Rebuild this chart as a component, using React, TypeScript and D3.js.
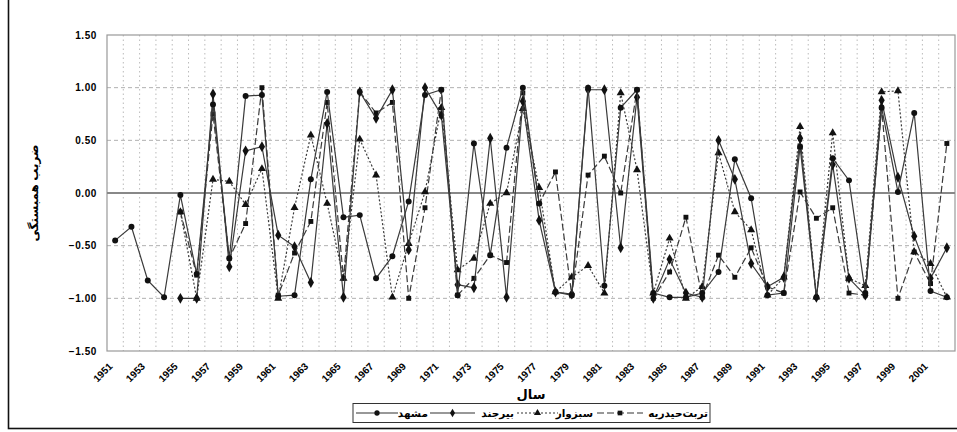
import * as d3 from "d3";
import { useEffect, useRef } from "react";

// years on the x axis
const years = d3.range(1951, 2003);

// correlation coefficients (null = no value)
const mashhad = [
  -0.45, -0.32, -0.83, -0.99, -0.02, -0.77, 0.84, -0.62, 0.92, 0.93,
  -0.98, -0.97, 0.13, 0.96, -0.23, -0.21, -0.81, -0.6, -0.08, 0.93,
  0.98, -0.97, 0.47, -0.59, 0.43, 1.0, -0.1, -0.94, -0.97, 1.0,
  -0.88, 0.81, 0.98, -0.95, -0.99, -0.99, -0.95, -0.75, 0.32, -0.05,
  -0.97, -0.95, 0.44, -0.99, 0.33, 0.12, -0.95, 0.81, 0.01, 0.76,
  -0.93, -0.99,
];
const birjand = [
  null, null, null, null, -1.0, -1.0, 0.94, -0.7, 0.4, 0.44,
  -0.4, -0.51, -0.85, 0.66, -0.99, 0.96, 0.71, 0.98, -0.54, 1.0,
  0.74, -0.87, -0.9, 0.52, -0.99, 0.87, -0.26, -0.94, -0.96, 0.98,
  0.98, -0.52, 0.91, -1.0, -0.63, -0.95, -0.99, 0.5, 0.13, -0.67,
  -0.89, -0.8, 0.52, -0.99, 0.27, -0.81, -0.97, 0.88, 0.15, -0.41,
  -0.81, -0.52,
];
const sabzevar = [
  null, null, null, null, -0.18, -1.0, 0.13, 0.11, -0.11, 0.23,
  -1.0, -0.14, 0.55, -0.1, -0.81, 0.51, 0.17, -0.99, -0.48, 0.01,
  0.81, -0.73, -0.62, -0.1, 0.0, 0.8, 0.05, -0.94, -0.8, -0.69,
  -0.95, 0.95, 0.22, -0.95, -0.43, -1.0, -0.89, 0.38, -0.18, -0.35,
  -0.97, -0.8, 0.63, -0.99, 0.57, -0.81, -0.88, 0.96, 0.97, -0.56,
  -0.67, -0.99,
];
const torbat = [
  null, null, null, null, -0.18, -0.78, 0.75, -0.62, -0.29, 1.0,
  -0.97, -0.57, -0.27, 0.86, -0.81, 0.96, 0.76, 0.86, -1.0, -0.14,
  0.98, -0.97, -0.81, -0.59, -0.66, 0.95, -0.1, 0.2, -0.97, 0.17,
  0.35, 0.0, 0.98, -1.0, -0.75, -0.23, -0.99, -0.59, -0.8, -0.52,
  -0.89, -0.95, 0.01, -0.24, -0.14, -0.95, -0.97, 0.81, -1.0, -0.56,
  -0.86, 0.47,
];

const seriesNames = ["مشهد", "بیرجند", "سبزوار", "تربت‌حیدریه"];
const yTicks = [-1.5, -1.0, -0.5, 0, 0.5, 1.0, 1.5];
const yTitle = "ضریب همبستگی";
const xTitle = "سال";

const font = "'Liberation Sans', Arial, 'DejaVu Sans', sans-serif";

export default function App() {
  const ref = useRef<SVGSVGElement>(null);

  useEffect(() => {
    const width = 957;
    const left = 107,
      right = 955,
      top = 35,
      bottom = 351;

    const svg = d3.select(ref.current);
    svg.selectAll("*").remove();

    // outer frame
    svg
      .append("rect")
      .attr("x", 8.5)
      .attr("y", -2)
      .attr("width", width + 4)
      .attr("height", 430.5)
      .attr("fill", "#fff")
      .attr("stroke", "#111")
      .attr("stroke-width", 1.6);

    const x = d3.scaleBand<number>().domain(years).range([left, right]);
    const y = d3.scaleLinear().domain([-1.5, 1.5]).range([bottom, top]);
    const cx = (yr: number) => (x(yr) as number) + x.bandwidth() / 2;

    // vertical dotted gridlines between categories
    svg
      .append("g")
      .selectAll("line")
      .data(years.slice(1))
      .join("line")
      .attr("x1", (d) => x(d) as number)
      .attr("x2", (d) => x(d) as number)
      .attr("y1", top)
      .attr("y2", bottom)
      .attr("stroke", "#bbb")
      .attr("stroke-dasharray", "1.5,3");

    // horizontal gridlines
    svg
      .append("g")
      .selectAll("line")
      .data(yTicks.filter((t) => t !== 0 && t !== -1.5 && t !== 1.5))
      .join("line")
      .attr("x1", left)
      .attr("x2", right)
      .attr("y1", (d) => y(d))
      .attr("y2", (d) => y(d))
      .attr("stroke", "#b0b0b0")
      .attr("stroke-dasharray", "4,3");

    // plot border
    svg
      .append("rect")
      .attr("x", left)
      .attr("y", top)
      .attr("width", right - left)
      .attr("height", bottom - top)
      .attr("fill", "none")
      .attr("stroke", "#999")
      .attr("stroke-width", 1.2);

    // zero line
    svg
      .append("line")
      .attr("x1", left)
      .attr("x2", right)
      .attr("y1", y(0))
      .attr("y2", y(0))
      .attr("stroke", "#888")
      .attr("stroke-width", 2);

    // y tick labels
    svg
      .append("g")
      .selectAll("text")
      .data(yTicks)
      .join("text")
      .attr("x", 97)
      .attr("y", (d) => y(d) + 3.5)
      .attr("text-anchor", "end")
      .style("font-family", font)
      .style("font-size", "10px")
      .style("font-weight", "bold")
      .style("letter-spacing", "0.6px")
      .text((d) => d3.format(".2f")(d));

    // x tick labels, every other year
    svg
      .append("g")
      .selectAll("text")
      .data(years.filter((d) => (d - 1951) % 2 === 0))
      .join("text")
      .attr("transform", (d) => `translate(${cx(d) - 2},${bottom + 16}) rotate(-45)`)
      .attr("text-anchor", "end")
      .style("font-family", font)
      .style("font-size", "10px")
      .style("font-weight", "bold")
      .text((d) => d);

    // axis titles
    svg
      .append("text")
      .attr("x", (left + right) / 2)
      .attr("y", 399)
      .attr("text-anchor", "middle")
      .style("font-family", font)
      .style("font-size", "13px")
      .style("font-weight", "bold")
      .text(xTitle);

    svg
      .append("text")
      .attr("transform", `translate(38,${(top + bottom) / 2}) rotate(-90)`)
      .attr("text-anchor", "middle")
      .style("font-family", font)
      .style("font-size", "12px")
      .style("font-weight", "bold")
      .text(yTitle);

    // series
    const all = [mashhad, birjand, sabzevar, torbat];
    const dashes = [null, null, "2,2", "7,3"];
    const shapes = [d3.symbolCircle, d3.symbolDiamond, d3.symbolTriangle, d3.symbolSquare];
    const sizes = [28, 34, 28, 24];

    const line = d3
      .line<number | null>()
      .defined((d) => d !== null)
      .x((_, i) => cx(years[i]))
      .y((d) => y(d as number));

    const plot = svg.append("g");
    [3, 2, 1, 0].forEach((s) => {
      plot
        .append("path")
        .attr("d", line(all[s]))
        .attr("fill", "none")
        .attr("stroke", "#3a3a3a")
        .attr("stroke-width", 1.2)
        .attr("stroke-dasharray", dashes[s]);
      plot
        .append("g")
        .selectAll("path")
        .data(all[s].map((v, i) => ({ v, yr: years[i] })).filter((d) => d.v !== null))
        .join("path")
        .attr("transform", (d) => `translate(${cx(d.yr)},${y(d.v as number)})`)
        .attr("d", d3.symbol().type(shapes[s]).size(sizes[s])())
        .attr("fill", "#111");
    });

    // legend
    const lg = svg.append("g");
    lg.append("rect")
      .attr("x", 353)
      .attr("y", 403.5)
      .attr("width", 357)
      .attr("height", 19)
      .attr("fill", "#fff")
      .attr("stroke", "#333");

    const items = [
      { s: 0, x1: 356, x2: 398, tx: 428 },
      { s: 1, x1: 430, x2: 475, tx: 514 },
      { s: 2, x1: 517, x2: 558, tx: 593 },
      { s: 3, x1: 597, x2: 643, tx: 708 },
    ];
    items.forEach((it) => {
      lg.append("line")
        .attr("x1", it.x1)
        .attr("x2", it.x2)
        .attr("y1", 413)
        .attr("y2", 413)
        .attr("stroke", "#333")
        .attr("stroke-width", 1.1)
        .attr("stroke-dasharray", dashes[it.s]);
      lg.append("path")
        .attr("transform", `translate(${(it.x1 + it.x2) / 2},413)`)
        .attr("d", d3.symbol().type(shapes[it.s]).size(22)())
        .attr("fill", "#111");
      lg.append("text")
        .attr("x", it.tx)
        .attr("y", 417)
        .attr("text-anchor", "end")
        .style("font-family", font)
        .style("font-size", "10.5px")
        .style("font-weight", "bold")
        .text(seriesNames[it.s]);
    });
  }, []);

  return (
    <svg
      ref={ref}
      width={957}
      height={432}
      style={{ position: "absolute", left: 0, top: 0, background: "#fff" }}
    />
  );
}
